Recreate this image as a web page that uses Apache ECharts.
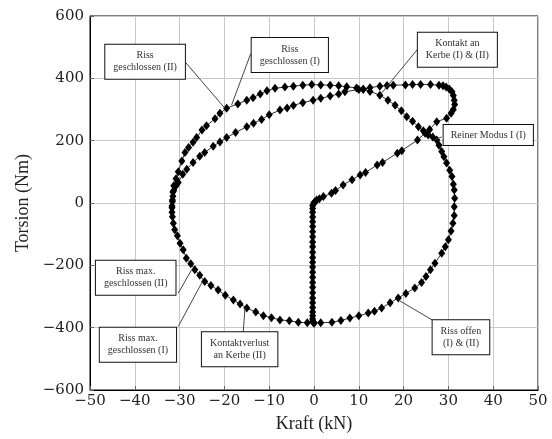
<!DOCTYPE html>
<html>
<head>
    <meta charset="utf-8"/>
    <title>Kraft-Torsion</title>
    <script src="https://cdn.jsdelivr.net/npm/echarts@6/dist/echarts.min.js"></script>
    <style>
      html, body { margin: 0; padding: 0; background: #fff; }
      #myChart { width: 552px; height: 439px; }
    </style>
</head>
<body>
<div id="myChart"></div>
<script type="text/javascript">
    // Messpfade [Kraft kN, Torsion Nm]
    var pfadVertikal = [[0,0],[-0.3,-8],[-0.3,-18],[-0.3,-30],[-0.3,-45],[-0.3,-60],[-0.3,-75],[-0.3,-92],
        [-0.3,-108],[-0.3,-125],[-0.3,-140],[-0.3,-158],[-0.3,-175],[-0.3,-190],[-0.3,-205],[-0.3,-222],
        [-0.3,-238],[-0.3,-255],[-0.3,-270],[-0.3,-288],[-0.3,-305],[-0.3,-320],[-0.3,-335],[-0.3,-350],
        [-0.3,-362],[-0.3,-372],[-0.3,-380],[0,-385]];

    var pfadModusI = [[0,0],[0.2,4],[0.6,10],[1.2,14],[2.1,21],[3.9,31],[4.8,40],[6.5,58],[8.5,75],[10.3,90],
        [11.5,98],[14.1,122],[15.3,130],[18.6,160],[19.6,168],[23.1,202],[24.8,224],[25.8,236],[27.4,261],
        [29.6,272],[30.6,288],[31.1,300],[31.4,316],[31.3,330],[31.1,345],[30.8,357],[30.2,366],[29.5,372],
        [28.8,376],[27.9,378],[26,380],[23.8,380],[22,380],[20.4,379],[17.7,378],[16.3,377],[14.7,375],
        [12.5,370],[11,365],[10,364],[6.9,357],[5.5,350],[3.6,343],[1.5,336],[-0.2,330],[-2.5,322],[-4.6,313],
        [-6,305],[-7.6,298],[-10,283],[-11.7,268],[-13.5,256],[-15,245],[-17.5,226],[-19.5,210],[-21,196],
        [-22.5,182],[-24.4,162],[-25.5,150],[-27,130],[-28.4,108],[-29.3,92],[-30.3,66],[-30.8,55],[-31.3,40],
        [-31.5,22],[-31.6,5],[-31.7,-15],[-31.7,-30],[-31.6,-44],[-31.4,-65],[-31.1,-86],[-30.5,-105],
        [-29.9,-129],[-29.2,-150],[-28.5,-177],[-27.5,-195],[-26.6,-214],[-25.5,-232],[-24.4,-252],[-23,-265],
        [-21.4,-279],[-19.8,-296],[-18,-311],[-16.5,-324],[-15,-337],[-13,-350],[-11.3,-362],[-9.5,-368],
        [-7.6,-375],[-5.5,-378],[-3.5,-383],[-1.5,-384],[0,-385]];

    var pfadEllipse = [[0,-385],[1.5,-384],[4,-383],[6,-377],[8,-369],[10,-362],[12.1,-353],[13.5,-347],
        [15.1,-337],[17,-320],[18.8,-305],[20.5,-290],[22.5,-273],[24,-255],[25,-236],[26,-214],[27,-193],
        [28.5,-161],[29.3,-140],[30,-118],[30.6,-90],[31,-65],[31.3,-40],[31.3,-12],[31.4,15],[31.3,42],
        [31.1,60],[30.8,85],[30.3,105],[29.6,128],[29,148],[28.5,165],[27.9,185],[27.4,202],[26.5,212],
        [25.5,218],[24.4,232],[23.3,245],[22,262],[20.7,277],[19.5,296],[18.1,314],[16.5,330],[14.7,346],
        [12.5,358],[11,365],[9.5,369],[7.3,373],[5.5,376],[3.6,378],[1.5,379],[-0.5,380],[-2.5,378],
        [-4.6,375],[-6.5,372],[-8.7,368],[-10.5,360],[-12,350],[-13.6,338],[-15,330],[-17,318],[-19.5,304],
        [-21,288],[-22.1,270],[-24,248],[-25,234],[-26.2,210],[-27,195],[-28,178],[-28.8,162],[-29.5,135],
        [-30.3,100],[-30.8,78],[-31.3,55],[-31.5,35],[-31.6,10],[-31.7,-10]];

    // Beschriftungen und die Punkte, auf die sie zeigen
    var calloutTexte = ['Riss\ngeschlossen (II)', 'Riss\ngeschlossen (I)', 'Kontakt an\nKerbe (I) & (II)',
        'Reiner Modus I (I)', 'Riss max.\ngeschlossen (II)', 'Riss max.\ngeschlossen (I)',
        'Kontaktverlust\nan Kerbe (II)', 'Riss offen\n(I) & (II)'];
    var calloutZiele = [[-19.9,304],[-18.4,314],[14.7,346],[27,203],[-27.3,-214],[-24.9,-252],[-15.4,-337],[18.8,-311]];
    // Lage der Kästen (Mitte) und Ansatz der Linie, in Achsenwerten
    var calloutBox = [[-37.7,453],[-5.4,475],[32,492],[38.9,218],[-39.8,-240],[-39.3,-455],[-16.6,-469],[32.8,-431]];
    var calloutAnsatz = [[-28.6,450],[-14.1,480],[23.1,493],[28.5,212],[-30.3,-289],[-30.3,-396],[-15.8,-415],[26.7,-378]];

    var xTicks = { min: -50, max: 50, step: 10 };
    var yTicks = { min: -600, max: 600, step: 200 };

    var minus = function (v) { return String(v).replace('-', '\u2212'); };

    var myChart = echarts.init(document.getElementById('myChart'));

    var pfadSerie = function (data) {
        return {
            type: 'line',
            data: data,
            symbol: 'diamond',
            symbolSize: [7, 9],
            showAllSymbol: true,
            itemStyle: { color: '#000' },
            lineStyle: { color: '#333', width: 1 },
            animation: false
        };
    };

    var series = [pfadSerie(pfadVertikal), pfadSerie(pfadModusI), pfadSerie(pfadEllipse)];

    series[0].markLine = {
        silent: true,
        symbol: ['none', 'none'],
        lineStyle: { color: '#444', width: 1, type: 'solid' },
        label: { show: false },
        animation: false,
        data: calloutAnsatz.map(function (a, i) {
            return [{ coord: a }, { coord: calloutZiele[i] }];
        })
    };
    series[0].markPoint = {
        silent: true,
        symbol: 'rect',
        symbolSize: 1,
        itemStyle: { color: 'rgba(0,0,0,0)' },
        animation: false,
        label: {
            show: true,
            position: 'inside',
            fontFamily: 'Liberation Serif',
            fontSize: 10,
            lineHeight: 12,
            color: '#333',
            align: 'center',
            backgroundColor: '#fff',
            borderColor: '#111',
            borderWidth: 1,
            padding: [5, 8]
        },
        data: calloutTexte.map(function (t, i) {
            var d = { coord: calloutBox[i], value: t, label: { formatter: t } };
            if (i === 3) d.label.padding = [4, 7];
            return d;
        })
    };

    var option = {
        animation: false,
        grid: {
            left: 90, right: 14, top: 16, bottom: 49,
            show: true, borderColor: '#000', borderWidth: 1
        },
        xAxis: {
            type: 'value',
            min: xTicks.min, max: xTicks.max, interval: xTicks.step,
            name: 'Kraft (kN)',
            nameLocation: 'middle',
            nameGap: 25,
            nameTextStyle: { fontFamily: 'Liberation Serif', fontSize: 18, color: '#222' },
            axisLine: { show: true, onZero: false, lineStyle: { color: '#000' } },
            axisTick: { show: true, inside: true, length: 4, lineStyle: { color: '#666' } },
            axisLabel: { formatter: minus, fontFamily: 'DejaVu Serif', fontSize: 15, color: '#222', margin: 4 },
            splitLine: { show: true, lineStyle: { color: '#c8c8c8', width: 1 } }
        },
        yAxis: {
            type: 'value',
            min: yTicks.min, max: yTicks.max, interval: yTicks.step,
            name: 'Torsion (Nm)',
            nameLocation: 'middle',
            nameGap: 58,
            nameTextStyle: { fontFamily: 'Liberation Serif', fontSize: 18, color: '#222' },
            axisLine: { show: true, onZero: false, lineStyle: { color: '#000' } },
            axisTick: { show: true, inside: true, length: 4, lineStyle: { color: '#666' } },
            axisLabel: { formatter: minus, fontFamily: 'DejaVu Serif', fontSize: 15, color: '#222', margin: 6 },
            splitLine: { show: true, lineStyle: { color: '#c8c8c8', width: 1 } }
        },
        series: series
    };
    myChart.setOption(option);
</script>
</body>
</html>
